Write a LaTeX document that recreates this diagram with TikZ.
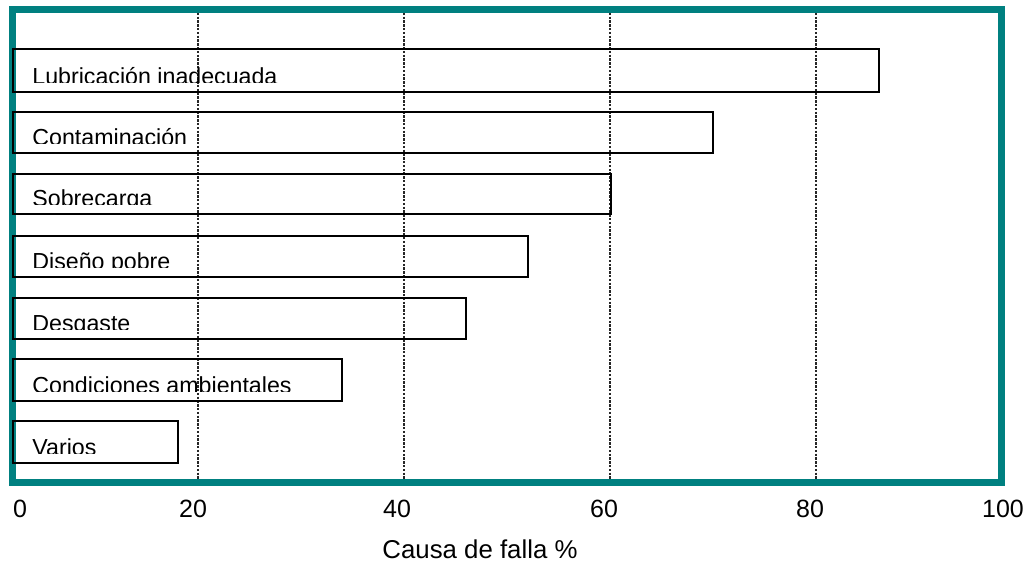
\documentclass[tikz,border=0pt]{standalone}
\usepackage{fontspec}
\setmainfont{Liberation Sans}
\definecolor{framecol}{RGB}{0,128,128}
\begin{document}
\begin{tikzpicture}[x=0.5pt,y=-0.5pt]
%%%%%%%%%%%%%%%%%%%%%%%%%%%%%%%%%%%%%%%%%%%%%%%%%%%%%%%%
% STYLE
\tikzstyle{frame}=[draw=framecol,line width=3.5pt]
\tikzstyle{gridline}=[draw=black!85,line width=0.6pt,dash pattern=on 1.2pt off 0.7pt]
\tikzstyle{bar}=[draw=black,line width=1.3pt]
\tikzstyle{lbl}=[anchor=base west,inner sep=0pt,font=\fontsize{11.6}{13}\selectfont]
\tikzstyle{num}=[anchor=base,inner sep=0pt,font=\fontsize{12.5}{14}\selectfont]
\tikzstyle{txt}=[anchor=base,inner sep=0pt,font=\fontsize{12.9}{15}\selectfont]

\useasboundingbox (0,0) rectangle (1026,564);

%%%%%%%%%%%%%%%%%%%%%%%%%%%%%%%%%%%%%%%%%%%%%%%%%%%%%%%%
% GRID
\draw[gridline] (198,9) -- (198,482);
\draw[gridline] (404,9) -- (404,482);
\draw[gridline] (610,9) -- (610,482);
\draw[gridline] (816,9) -- (816,482);

%%%%%%%%%%%%%%%%%%%%%%%%%%%%%%%%%%%%%%%%%%%%%%%%%%%%%%%%
% FRAME
\draw[frame] (12,9) rectangle (1001,482);

%%%%%%%%%%%%%%%%%%%%%%%%%%%%%%%%%%%%%%%%%%%%%%%%%%%%%%%%
% BARS
\draw[bar] (13,49) rectangle (879,92);
\draw[bar] (13,112) rectangle (713,153);
\draw[bar] (13,174) rectangle (611,214);
\draw[bar] (13,236) rectangle (528,277);
\draw[bar] (13,298) rectangle (466,339);
\draw[bar] (13,359) rectangle (342,401);
\draw[bar] (13,421) rectangle (178,463);

%%%%%%%%%%%%%%%%%%%%%%%%%%%%%%%%%%%%%%%%%%%%%%%%%%%%%%%%
% LABELS
\begin{scope}
\clip (14,50) rectangle (878,82) (14,113) rectangle (712,143)
      (14,175) rectangle (610,204) (14,237) rectangle (527,267)
      (14,299) rectangle (465,329) (14,360) rectangle (341,391)
      (14,422) rectangle (177,453);
\node[lbl] (L1) at (32,84) {Lubricación inadecuada};
\node[lbl] (L2) at (32,145) {Contaminación};
\node[lbl] (L3) at (32,206) {Sobrecarga};
\node[lbl] (L4) at (32,269) {Diseño pobre};
\node[lbl] (L5) at (32,331) {Desgaste};
\node[lbl] (L6) at (32,393) {Condiciones ambientales};
\node[lbl] (L7) at (32,455) {Varios};
\end{scope}

%%%%%%%%%%%%%%%%%%%%%%%%%%%%%%%%%%%%%%%%%%%%%%%%%%%%%%%%
% AXIS
\node[num] (T0) at (20,517) {0};
\node[num] (T1) at (193,517) {20};
\node[num] (T2) at (397,517) {40};
\node[num] (T3) at (604,517) {60};
\node[num] (T4) at (810,517) {80};
\node[num] (T5) at (1003,517) {100};

\node[txt] (xlab) at (480,558) {Causa de falla \%};

\end{tikzpicture}
\end{document}
